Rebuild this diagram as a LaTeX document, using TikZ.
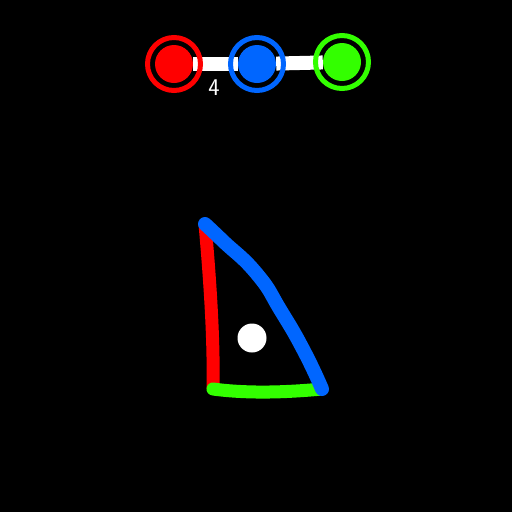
\documentclass[tikz,border=0pt]{standalone}
\usepackage{tikz}
\usetikzlibrary{arrows.meta}
\definecolor{bred}{RGB}{255,0,0}
\definecolor{bblue}{RGB}{0,102,255}
\definecolor{bgreen}{RGB}{51,255,0}
\tikzset{ball/.style={circle, fill=#1, minimum size=38pt, inner sep=0pt}}

\begin{document}
\begin{tikzpicture}[x=1pt, y=-1pt]
    \fill[black] (0,0) rectangle (512,512);
    \useasboundingbox (0,0) rectangle (512,512);
    % the three balls at the top
    \node[ball=bred] (red) at (174,64) {};
    \node[ball=bblue] (blue) at (257,64) {};
    \node[ball=bgreen] (green) at (342,62) {};
    \draw[white, line width=14pt] (red) -- (blue);
    \draw[white, line width=14pt] (blue) -- (green);
    \draw[bred, line width=5pt] (red.center) circle (26.5);
    \draw[bblue, line width=5pt] (blue.center) circle (26.5);
    \draw[bgreen, line width=5pt] (green.center) circle (26.5);
    \node[white, font=\sffamily\fontsize{24}{24}\selectfont] (count) at (214,88) {4};
    % triangle
    \coordinate (tip) at (205,224);
    \coordinate (bl) at (213,389);
    \coordinate (br) at (322,389);
    \draw[bred, line width=13pt] (tip) .. controls (210,280) and (214,340) .. (bl);
    \draw[bgreen, line width=13pt, line cap=round] (bl) .. controls (250,394) and (290,392) .. (br);
    \draw[bblue, line width=14pt, line cap=round] plot[smooth, tension=0.9] coordinates {(tip) (223,241) (257,274) (281,311) (304,351) (br)};
    \node[circle, fill=white, minimum size=29pt, inner sep=0pt] (dot) at (252,338) {};
\end{tikzpicture}
\end{document}
